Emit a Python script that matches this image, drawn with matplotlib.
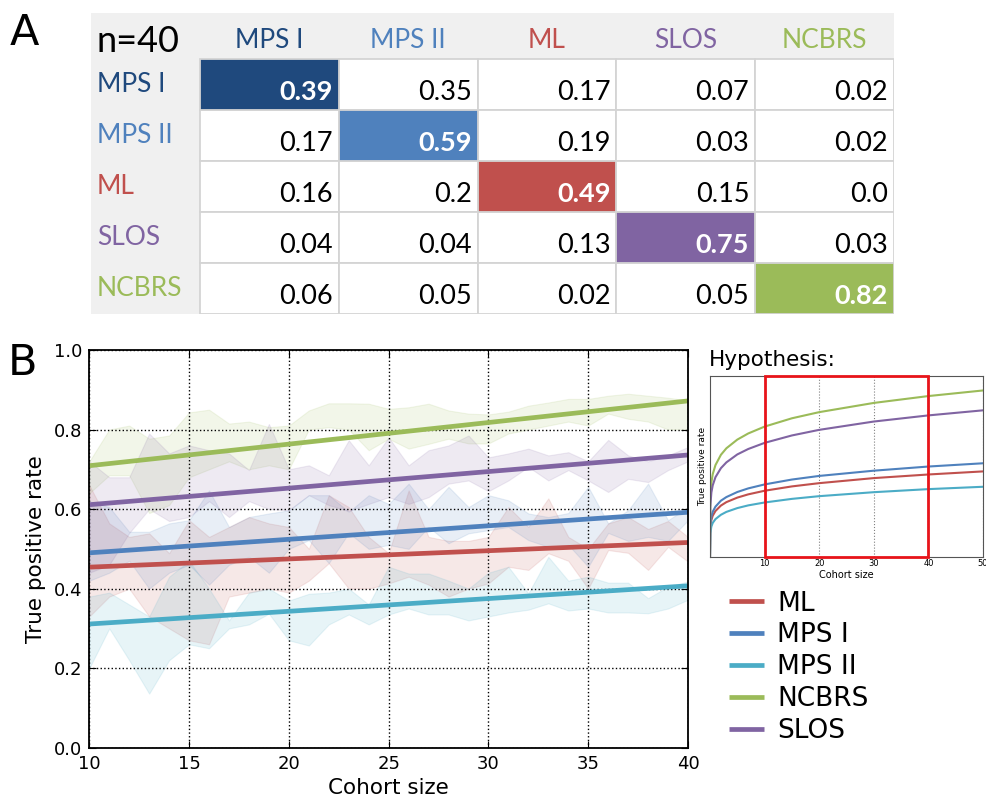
import matplotlib
matplotlib.use("Agg")
import matplotlib.pyplot as plt
from matplotlib.patches import Rectangle

# ---------------- data ----------------
categories = ['MPS I', 'MPS II', 'ML', 'SLOS', 'NCBRS']
confusion = [
    [0.39, 0.35, 0.17, 0.07, 0.02],
    [0.17, 0.59, 0.19, 0.03, 0.02],
    [0.16, 0.2, 0.49, 0.15, 0.0],
    [0.04, 0.04, 0.13, 0.75, 0.03],
    [0.06, 0.05, 0.02, 0.05, 0.82],
]
table_title = 'n=40'

cohort = list(range(10, 41))
series = ['ML', 'MPS I', 'MPS II', 'NCBRS', 'SLOS']

ml_lo = [0.33, 0.38, 0.40, 0.33, 0.30, 0.27, 0.26, 0.38, 0.39, 0.40, 0.39, 0.42, 0.464, 0.40, 0.40, 0.413,
         0.43, 0.41, 0.38, 0.40, 0.413, 0.455, 0.447, 0.489, 0.47, 0.40, 0.497, 0.49, 0.447, 0.505, 0.468]
ml_hi = [0.66, 0.564, 0.53, 0.539, 0.489, 0.572, 0.53, 0.555, 0.58, 0.564, 0.555, 0.50, 0.635, 0.605, 0.53, 0.489,
         0.647, 0.53, 0.52, 0.52, 0.53, 0.605, 0.555, 0.627, 0.53, 0.50, 0.564, 0.58, 0.55, 0.57, 0.53]
mps1_lo = [0.42, 0.44, 0.47, 0.40, 0.44, 0.46, 0.41, 0.46, 0.48, 0.44, 0.50, 0.522, 0.464, 0.54, 0.50, 0.51,
           0.50, 0.555, 0.514, 0.539, 0.547, 0.555, 0.522, 0.505, 0.51, 0.455, 0.54, 0.52, 0.53, 0.52, 0.572]
mps1_hi = [0.62, 0.605, 0.543, 0.543, 0.564, 0.572, 0.647, 0.555, 0.58, 0.589, 0.597, 0.635, 0.635, 0.593, 0.635, 0.613,
           0.664, 0.60, 0.656, 0.605, 0.635, 0.622, 0.589, 0.58, 0.59, 0.656, 0.564, 0.597, 0.664, 0.572, 0.605]
mps2_lo = [0.20, 0.30, 0.22, 0.136, 0.22, 0.26, 0.25, 0.30, 0.31, 0.337, 0.27, 0.257, 0.31, 0.335, 0.31, 0.335,
           0.35, 0.335, 0.335, 0.32, 0.33, 0.34, 0.347, 0.363, 0.345, 0.35, 0.34, 0.34, 0.338, 0.35, 0.372]
mps2_hi = [0.38, 0.39, 0.36, 0.33, 0.43, 0.47, 0.40, 0.32, 0.39, 0.40, 0.37, 0.387, 0.39, 0.40, 0.36, 0.455,
           0.438, 0.438, 0.42, 0.40, 0.44, 0.455, 0.388, 0.48, 0.42, 0.43, 0.415, 0.415, 0.376, 0.405, 0.418]
ncbrs_lo = [0.64, 0.685, 0.685, 0.59, 0.61, 0.68, 0.70, 0.72, 0.70, 0.71, 0.70, 0.80, 0.806, 0.80, 0.748, 0.777,
            0.752, 0.764, 0.777, 0.765, 0.765, 0.79, 0.80, 0.81, 0.82, 0.81, 0.84, 0.827, 0.82, 0.80, 0.80]
ncbrs_hi = [0.72, 0.80, 0.81, 0.777, 0.785, 0.843, 0.85, 0.815, 0.82, 0.806, 0.81, 0.848, 0.866, 0.866, 0.865, 0.852,
            0.856, 0.865, 0.848, 0.84, 0.838, 0.845, 0.86, 0.868, 0.877, 0.877, 0.885, 0.89, 0.885, 0.88, 0.873]
slos_lo = [0.44, 0.46, 0.54, 0.60, 0.57, 0.58, 0.62, 0.58, 0.62, 0.60, 0.597, 0.635, 0.61, 0.595, 0.613, 0.63,
           0.613, 0.63, 0.664, 0.672, 0.645, 0.672, 0.706, 0.672, 0.698, 0.672, 0.643, 0.676, 0.668, 0.698, 0.72]
slos_hi = [0.72, 0.68, 0.68, 0.79, 0.74, 0.76, 0.748, 0.74, 0.698, 0.814, 0.70, 0.71, 0.685, 0.773, 0.71, 0.78,
           0.71, 0.748, 0.76, 0.785, 0.73, 0.74, 0.752, 0.735, 0.743, 0.72, 0.774, 0.735, 0.72, 0.735, 0.756]

fit_x = [10, 40]
ml_fit = [0.454, 0.516]
mps1_fit = [0.490, 0.592]
mps2_fit = [0.311, 0.407]
ncbrs_fit = [0.709, 0.872]
slos_fit = [0.611, 0.736]

hyp_x = [0, 0.05, 0.25, 0.5, 1, 2, 3, 5, 7, 10, 15, 20, 30, 40, 50]
hyp_ml = [0, 0.157, 0.203, 0.227, 0.253, 0.283, 0.302, 0.327, 0.345, 0.365, 0.389, 0.407, 0.435, 0.455, 0.472]
hyp_mps1 = [0, 0.172, 0.222, 0.249, 0.277, 0.31, 0.33, 0.358, 0.378, 0.40, 0.427, 0.447, 0.476, 0.499, 0.517]
hyp_mps2 = [0, 0.129, 0.167, 0.187, 0.208, 0.232, 0.248, 0.269, 0.284, 0.30, 0.32, 0.335, 0.357, 0.374, 0.387]
hyp_ncbrs = [0, 0.32, 0.41, 0.457, 0.507, 0.564, 0.60, 0.648, 0.682, 0.72, 0.766, 0.80, 0.851, 0.889, 0.92]
hyp_slos = [0, 0.276, 0.355, 0.395, 0.44, 0.49, 0.522, 0.566, 0.596, 0.63, 0.671, 0.702, 0.748, 0.782, 0.81]
hyp_window = [10, 40]

# ---------------- styles ----------------
office = {'MPS I': '#1F497D', 'MPS II': '#4F81BD', 'ML': '#C0504D',
          'SLOS': '#8064A2', 'NCBRS': '#9BBB59'}
line_col = {'ML': '#C0504D', 'MPS I': '#4F81BD', 'MPS II': '#4BACC6',
            'NCBRS': '#9BBB59', 'SLOS': '#8064A2'}
TABFONT = ['Lato', 'DejaVu Sans']

W, H = 987, 800
fig = plt.figure(figsize=(W / 100, H / 100), dpi=100)

# ---------------- panel A: table ----------------
tx0, tx1, ty0, ty1 = 91, 894, 13, 314
axt = fig.add_axes([tx0 / W, 1 - ty1 / H, (tx1 - tx0) / W, (ty1 - ty0) / H])
axt.set_xlim(0, tx1 - tx0)
axt.set_ylim(ty1 - ty0, 0)
axt.axis('off')
lab_w = 109
col_w = (tx1 - tx0 - lab_w) / 5
head_h = 46
row_h = (ty1 - ty0 - head_h) / 5
gray = '#F0F0F0'
axt.add_patch(Rectangle((0, 0), tx1 - tx0, head_h, color=gray, lw=0))
axt.add_patch(Rectangle((0, 0), lab_w, ty1 - ty0, color=gray, lw=0))
for i in range(5):
    for j in range(5):
        x = lab_w + j * col_w
        y = head_h + i * row_h
        diag = (i == j)
        axt.add_patch(Rectangle((x, y), col_w, row_h,
                                facecolor=office[categories[i]] if diag else 'white',
                                edgecolor='#D4D4D4', lw=1.3, zorder=2 if diag else 1))
        axt.text(x + col_w - 6, y + row_h - 10, str(confusion[i][j]),
                 ha='right', va='baseline', fontsize=19.5, family=TABFONT,
                 color='white' if diag else 'black',
                 fontweight='bold' if diag else 'normal', zorder=3)
for j, c in enumerate(categories):
    axt.text(lab_w + (j + 0.5) * col_w, head_h / 2 + 4, c, ha='center', va='center',
             fontsize=19, family=TABFONT, color=office[c])
    axt.text(6, head_h + (j + 0.5) * row_h, c, ha='left', va='center',
             fontsize=19, family=TABFONT, color=office[c])
axt.text(6, head_h / 2 + 5, table_title, ha='left', va='center', fontsize=26,
         family=TABFONT, color='black')

# ---------------- panel B: main axes ----------------
ax = fig.add_axes([89.3 / W, 1 - 747.7 / H, (688 - 89.3) / W, (747.7 - 350) / H])
bands = {'ML': (ml_lo, ml_hi), 'MPS I': (mps1_lo, mps1_hi), 'MPS II': (mps2_lo, mps2_hi),
         'NCBRS': (ncbrs_lo, ncbrs_hi), 'SLOS': (slos_lo, slos_hi)}
fits = {'ML': ml_fit, 'MPS I': mps1_fit, 'MPS II': mps2_fit, 'NCBRS': ncbrs_fit, 'SLOS': slos_fit}
for s in series:
    lo, hi = bands[s]
    ax.fill_between(cohort, lo, hi, facecolor=line_col[s], alpha=0.13,
                    edgecolor=line_col[s], linewidth=0.8)
handles = []
for s in series:
    h, = ax.plot(fit_x, fits[s], color=line_col[s], lw=3.4, label=s, solid_capstyle='butt')
    handles.append(h)
ax.set_xlim(10, 40)
ax.set_ylim(0, 1.0)
ax.set_xticks(range(10, 41, 5))
ax.set_yticks([0.0, 0.2, 0.4, 0.6, 0.8, 1.0])
ax.set_yticklabels(['0.0', '0.2', '0.4', '0.6', '0.8', '1.0'])
ax.grid(True, linestyle=':', color='black', linewidth=1.0)
ax.tick_params(direction='in', top=True, right=True, labelsize=13, length=5, pad=5)
for sp in ax.spines.values():
    sp.set_linewidth(1.3)
ax.set_xlabel('Cohort size', fontsize=15.5, labelpad=4)
ax.set_ylabel('True positive rate', fontsize=15.5, labelpad=6)

# ---------------- inset: hypothesis ----------------
axi = fig.add_axes([710 / W, 1 - 556.7 / H, (983 - 710) / W, (556.7 - 376) / H])
hyp = {'ML': hyp_ml, 'MPS I': hyp_mps1, 'MPS II': hyp_mps2, 'NCBRS': hyp_ncbrs, 'SLOS': hyp_slos}
for s in series:
    axi.plot(hyp_x, hyp[s], color=line_col[s], lw=1.5)
axi.set_xlim(0, 50)
axi.set_ylim(0, 1.0)
axi.set_xticks([10, 20, 30, 40, 50])
axi.set_yticks([])
axi.grid(True, axis='x', linestyle=':', color='gray', linewidth=0.8)
axi.tick_params(labelsize=6, length=0, pad=2)
axi.set_xlabel('Cohort size', fontsize=7, labelpad=1)
axi.set_ylabel('True positive rate', fontsize=6.5, labelpad=2)
for sp in axi.spines.values():
    sp.set_linewidth(0.8)
    sp.set_color('#555555')
axi.add_patch(Rectangle((hyp_window[0], 0), hyp_window[1] - hyp_window[0], 1.0,
                        fill=False, edgecolor='#E8141A', lw=2.0, zorder=5, clip_on=False))
fig.text(709 / W, 1 - 366 / H, 'Hypothesis:', fontsize=15.5, ha='left', va='baseline')

# ---------------- legend ----------------
fig.legend(handles=handles, labels=series, loc='upper left',
           bbox_to_anchor=(718 / W, 1 - 580 / H), frameon=False, fontsize=19,
           handlelength=1.35, handletextpad=0.5, labelspacing=0.22, borderaxespad=0)

# ---------------- panel letters ----------------
fig.text(10 / W, 1 - 45 / H, 'A', fontsize=31, ha='left', va='baseline')
fig.text(8 / W, 1 - 375 / H, 'B', fontsize=31, ha='left', va='baseline')

fig.savefig('out.png', dpi=100)
